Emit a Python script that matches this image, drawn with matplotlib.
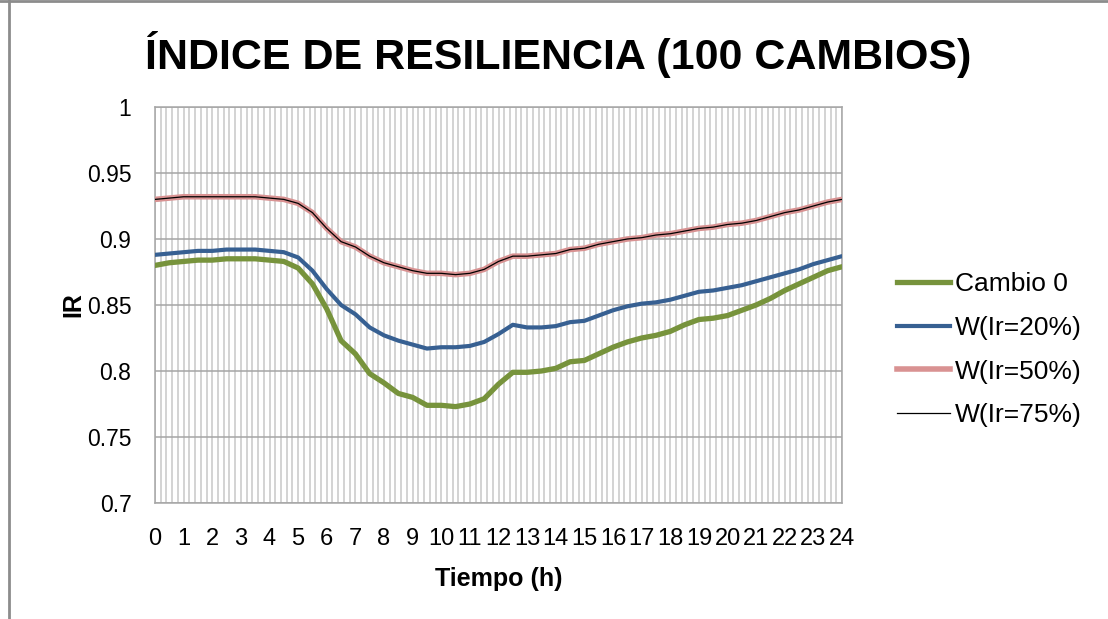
import matplotlib
matplotlib.use("Agg")
import matplotlib.pyplot as plt
from matplotlib import font_manager
from matplotlib.lines import Line2D
import numpy as np

hours = [0, 0.5, 1, 1.5, 2, 2.5, 3, 3.5, 4, 4.5, 5, 5.5, 6, 6.5, 7, 7.5, 8, 8.5,
         9, 9.5, 10, 10.5, 11, 11.5, 12, 12.5, 13, 13.5, 14, 14.5, 15, 15.5, 16,
         16.5, 17, 17.5, 18, 18.5, 19, 19.5, 20, 20.5, 21, 21.5, 22, 22.5, 23,
         23.5, 24]

cambio0 = [0.880, 0.882, 0.883, 0.884, 0.884, 0.885, 0.885, 0.885, 0.884, 0.883,
           0.878, 0.866, 0.847, 0.823, 0.813, 0.798, 0.791, 0.783, 0.780, 0.774,
           0.774, 0.773, 0.775, 0.779, 0.790, 0.799, 0.799, 0.800, 0.802, 0.807,
           0.808, 0.813, 0.818, 0.822, 0.825, 0.827, 0.830, 0.835, 0.839, 0.840,
           0.842, 0.846, 0.850, 0.855, 0.861, 0.866, 0.871, 0.876, 0.879]

w_ir20 = [0.888, 0.889, 0.890, 0.891, 0.891, 0.892, 0.892, 0.892, 0.891, 0.890,
          0.886, 0.876, 0.862, 0.850, 0.843, 0.833, 0.827, 0.823, 0.820, 0.817,
          0.818, 0.818, 0.819, 0.822, 0.828, 0.835, 0.833, 0.833, 0.834, 0.837,
          0.838, 0.842, 0.846, 0.849, 0.851, 0.852, 0.854, 0.857, 0.860, 0.861,
          0.863, 0.865, 0.868, 0.871, 0.874, 0.877, 0.881, 0.884, 0.887]

w_ir50 = [0.930, 0.931, 0.932, 0.932, 0.932, 0.932, 0.932, 0.932, 0.931, 0.930,
          0.927, 0.920, 0.908, 0.898, 0.894, 0.887, 0.882, 0.879, 0.876, 0.874,
          0.874, 0.873, 0.874, 0.877, 0.883, 0.887, 0.887, 0.888, 0.889, 0.892,
          0.893, 0.896, 0.898, 0.900, 0.901, 0.903, 0.904, 0.906, 0.908, 0.909,
          0.911, 0.912, 0.914, 0.917, 0.920, 0.922, 0.925, 0.928, 0.930]

w_ir75 = list(w_ir50)

series_labels = ["Cambio 0", "W(Ir=20%)", "W(Ir=50%)", "W(Ir=75%)"]
x_tick_labels = [str(h) for h in range(25)]
y_ticks = [0.7, 0.75, 0.8, 0.85, 0.9, 0.95, 1.0]
y_tick_labels = ["0.7", "0.75", "0.8", "0.85", "0.9", "0.95", "1"]

available = {f.name for f in font_manager.fontManager.ttflist}
narrow = "Liberation Sans Narrow" if "Liberation Sans Narrow" in available else "Liberation Sans"
base = "Liberation Sans"

plt.rcParams['font.family'] = [base, 'DejaVu Sans']

W, H = 1108, 619
fig = plt.figure(figsize=(W / 100, H / 100), dpi=100)
ax = fig.add_axes([155 / W, 1 - 503 / H, (842 - 155) / W, (503 - 107) / H])

c_green = '#77933C'
c_blue = '#376092'
c_red = '#D99292'

ax.plot(hours, cambio0, color=c_green, lw=3.8, solid_capstyle='round', zorder=3)
ax.plot(hours, w_ir20, color=c_blue, lw=3.0, solid_capstyle='round', zorder=4)
ax.plot(hours, w_ir50, color=c_red, lw=4.0, solid_capstyle='round', zorder=5)
ax.plot(hours, w_ir75, color='black', lw=0.9, zorder=6)

ax.set_xlim(0, 24)
ax.set_ylim(0.7, 1.0)
ax.set_xticks(range(25))
ax.set_xticklabels(x_tick_labels, fontsize=17, family=[narrow, 'DejaVu Sans'])
ax.set_xticks(np.arange(0, 24.01, 0.2), minor=True)
ax.set_yticks(y_ticks)
ax.set_yticklabels(y_tick_labels, fontsize=16.5)
ax.tick_params(axis='both', which='both', length=0)
ax.tick_params(axis='x', pad=18)
ax.tick_params(axis='y', pad=17)
ax.grid(True, axis='x', which='both', color='#C8C8C8', lw=1.1)
ax.grid(True, axis='y', which='major', color='#A6A6A6', lw=1.1)
ax.set_axisbelow(True)
for s in ax.spines.values():
    s.set_color('#A6A6A6')
    s.set_linewidth(1.1)

ax.set_xlabel("Tiempo (h)", fontsize=18, fontweight='bold', labelpad=12)
ax.set_ylabel("IR", fontsize=18, fontweight='bold', labelpad=1)

fig.text(558 / W, 1 - 55 / H, "ÍNDICE DE RESILIENCIA (100 CAMBIOS)",
         ha='center', va='center', fontsize=31, fontweight='bold',
         family=[narrow, 'DejaVu Sans'])

handles = [Line2D([], [], color=c_green, lw=3.8),
           Line2D([], [], color=c_blue, lw=3.0),
           Line2D([], [], color=c_red, lw=4.0),
           Line2D([], [], color='black', lw=0.9)]
fig.legend(handles, series_labels, loc='upper left',
           bbox_to_anchor=(897 / W, 1 - 272 / H), frameon=False,
           fontsize=19, handlelength=2.0, handletextpad=0.2,
           labelspacing=0.75, borderpad=0, borderaxespad=0)

# outer frame (top and left edges)
fig.add_artist(Line2D([0, 1], [1 - 1 / H, 1 - 1 / H], transform=fig.transFigure,
                      color='#8C8C8C', lw=2))
fig.add_artist(Line2D([9 / W, 9 / W], [0, 1], transform=fig.transFigure,
                      color='#8C8C8C', lw=2))

fig.savefig("out.png", dpi=100)
